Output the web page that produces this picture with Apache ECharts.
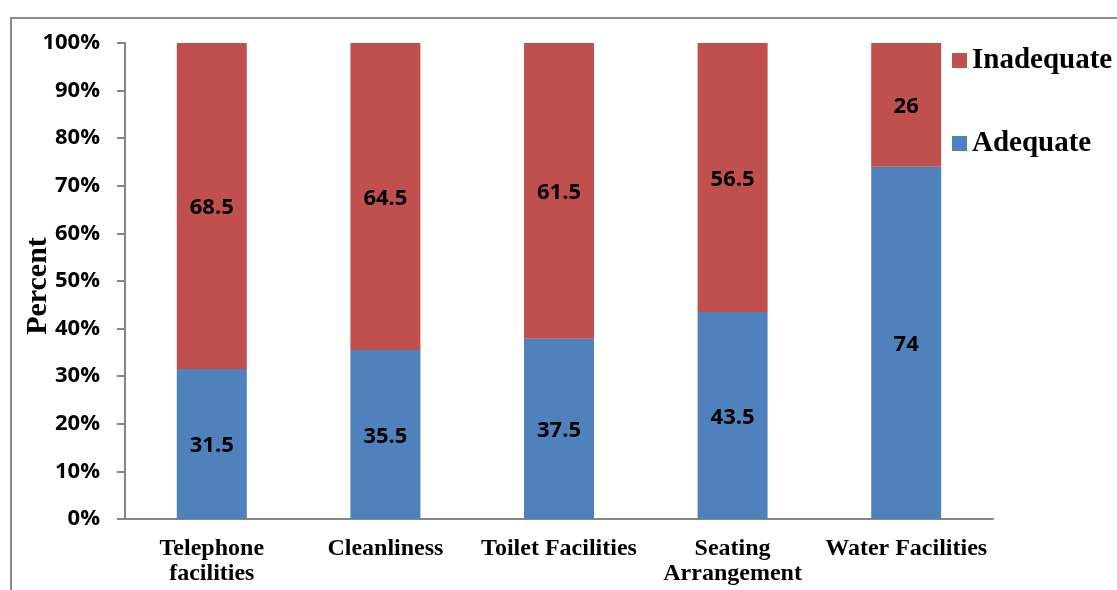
<!DOCTYPE html>
<html>
<head>
<meta charset="utf-8">
<script src="https://cdn.jsdelivr.net/npm/echarts@6/dist/echarts.min.js"></script>
<style>
  html, body { margin: 0; padding: 0; background: #fff; }
  #frame { position: absolute; left: 10px; top: 17px; width: 1107px; height: 573px;
           border-left: 2px solid #8c8c8c; border-top: 2px solid #8c8c8c; box-sizing: border-box; }
  #chart { position: absolute; left: 0; top: 0; width: 1117px; height: 590px; }
</style>
</head>
<body>
<div id="frame"></div>
<div id="chart"></div>
<script>
'use strict';

const categories = ['Telephone\nfacilities', 'Cleanliness', 'Toilet Facilities', 'Seating\nArrangement', 'Water Facilities'];
const adequate = [31.5, 35.5, 37.5, 43.5, 74];
const inadequate = [68.5, 64.5, 61.5, 56.5, 26];

(function () {
    const container = document.getElementById('chart');
    const axisColor = '#868686';

    // 100% stacked: each column is scaled to its own total, labels keep the raw value
    const totals = adequate.map((v, i) => v + inadequate[i]);
    const toShare = (values) => values.map((v, i) => ({ value: v / totals[i] * 100, raw: v }));

    const labelStyle = {
        show: true,
        position: 'inside',
        offset: [0, 2],
        color: '#000',
        fontFamily: 'Open Sans',
        fontWeight: 'bold',
        fontSize: 22,
        formatter: p => String(p.data.raw)
    };
    const options = {
        animation: false,
        grid: { left: 125, right: 124, top: 43, bottom: 71, outerBoundsMode: 'none' },
        legend: {
            data: ['Inadequate', 'Adequate'],
            orient: 'vertical',
            left: 947,
            top: 41,
            itemWidth: 15,
            itemHeight: 15,
            itemGap: 54,
            icon: 'rect',
            textStyle: {
                color: '#000',
                fontFamily: 'Liberation Serif',
                fontWeight: 'bold',
                fontSize: 29
            }
        },
        xAxis: {
            type: 'category',
            data: categories,
            axisLine: { lineStyle: { color: axisColor, width: 2 } },
            axisTick: { length: 7, lineStyle: { color: axisColor, width: 2 } },
            axisLabel: {
                interval: 0,
                margin: 17,
                color: '#000',
                fontFamily: 'Liberation Serif',
                fontWeight: 'bold',
                fontSize: 24,
                lineHeight: 25
            }
        },
        yAxis: {
            type: 'value',
            min: 0,
            max: 100,
            interval: 10,
            name: 'Percent',
            nameLocation: 'middle',
            nameGap: 72,
            nameRotate: 90,
            nameMoveOverlap: false,
            nameTextStyle: {
                color: '#000',
                fontFamily: 'Liberation Serif',
                fontWeight: 'bold',
                fontSize: 30,
                padding: [0, 10, 0, 0]
            },
            splitLine: { show: false },
            axisLine: { show: true, lineStyle: { color: axisColor, width: 2 } },
            axisTick: { show: true, length: 8, lineStyle: { color: axisColor, width: 2 } },
            axisLabel: {
                formatter: '{value}%',
                margin: 25,
                color: '#000',
                fontFamily: 'Open Sans',
                fontWeight: 'bold',
                fontSize: 22
            }
        },
        series: [
            {
                name: 'Adequate',
                type: 'bar',
                stack: 'total',
                barWidth: 70,
                itemStyle: { color: '#4F81BD' },
                label: labelStyle,
                data: toShare(adequate)
            },
            {
                name: 'Inadequate',
                type: 'bar',
                stack: 'total',
                barWidth: 70,
                itemStyle: { color: '#C0504D' },
                label: labelStyle,
                data: toShare(inadequate)
            }
        ]
    };

    const chart = echarts.init(container);
    chart.setOption(options);
})();
</script>
</body>
</html>
